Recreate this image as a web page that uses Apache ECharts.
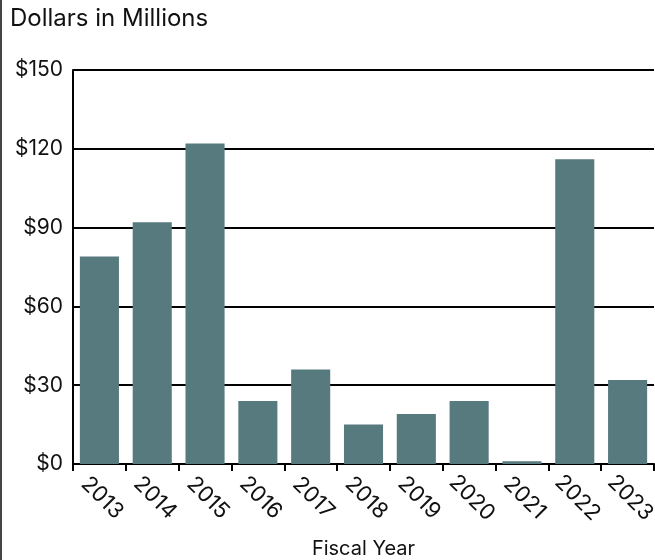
<!DOCTYPE html>
<html>
<head>
<meta charset="utf-8">
<script src="https://cdn.jsdelivr.net/npm/echarts@6/dist/echarts.min.js"></script>
<style>
html,body{margin:0;padding:0;background:#fff;}
#c{width:655px;height:560px;}
</style>
</head>
<body>
<div id="c"></div>
<script>
const categories = ['2013','2014','2015','2016','2017','2018','2019','2020','2021','2022','2023'];
const values = [79, 92, 122, 24, 36, 15, 19, 24, 1, 116, 32];
const yTicks = [0, 30, 60, 90, 120, 150];

const FONT = 'Inter';
const chart = echarts.init(document.getElementById('c'), null, {renderer: 'canvas'});
chart.setOption({
  animation: false,
  backgroundColor: '#fff',
  textStyle: {fontFamily: FONT},
  graphic: [
    {type: 'line', shape: {x1: 1, y1: 0, x2: 1, y2: 560}, style: {stroke: '#444', lineWidth: 2}},
    {type: 'text', left: 10, top: 7, style: {text: 'Dollars in Millions', font: '24px ' + FONT, fill: '#111'}}
  ],
  grid: {left: 73, right: 1, top: 70, bottom: 96, outerBoundsMode: 'none', containLabel: false},
  xAxis: {
    type: 'category',
    data: categories,
    name: 'Fiscal Year',
    nameLocation: 'middle',
    nameGap: 75,
    nameTextStyle: {fontSize: 20, color: '#111', fontFamily: FONT},
    axisLine: {show: true, lineStyle: {color: '#000', width: 2}},
    axisTick: {show: true, length: 7, lineStyle: {color: '#000', width: 2}},
    axisLabel: {rotate: -45, fontSize: 22, color: '#111', margin: 31, padding: [0, 0, 0, 8], align: 'center', verticalAlign: 'middle', fontFamily: FONT}
  },
  yAxis: {
    type: 'value',
    min: 0, max: 150, interval: 30,
    axisLine: {show: true, lineStyle: {color: '#000', width: 2}},
    axisTick: {show: false},
    splitLine: {show: true, lineStyle: {color: '#000', width: 2}},
    axisLabel: {formatter: v => yTicks.includes(v) ? '$' + v : '', fontSize: 21, color: '#111', margin: 10, fontFamily: FONT}
  },
  series: [{
    type: 'bar',
    data: values,
    barCategoryGap: '26%',
    itemStyle: {color: '#567a7d'}
  }]
});
</script>
</body>
</html>
